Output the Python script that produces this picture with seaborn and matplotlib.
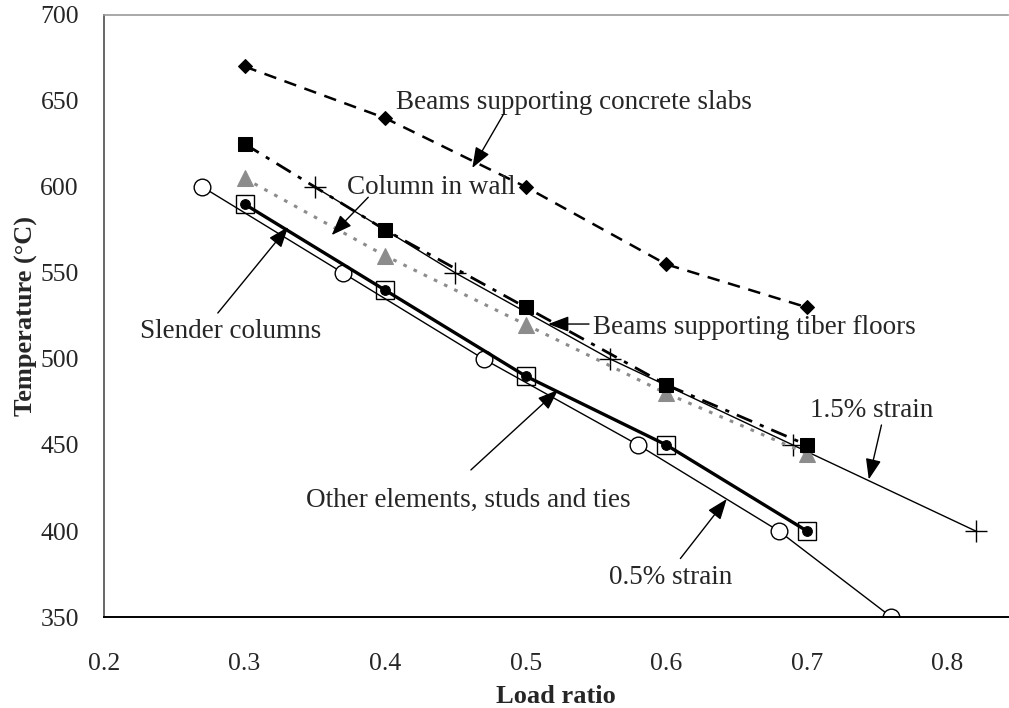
import matplotlib
matplotlib.use('Agg')
import matplotlib.pyplot as plt
import seaborn as sns

# Data
load_main = [0.3, 0.4, 0.5, 0.6, 0.7]
concrete_slabs = [670, 640, 600, 555, 530]
tiber_floors = [625, 575, 530, 485, 450]
column_wall = [605, 560, 520, 480, 445]
slender_cols = [590, 540, 490, 450, 400]
other_elements = [590, 540, 490, 450, 400]

load_15 = [0.35, 0.45, 0.56, 0.69, 0.82]
strain_15 = [600, 550, 500, 450, 400]

load_05 = [0.27, 0.37, 0.47, 0.58, 0.68, 0.76]
strain_05 = [600, 550, 500, 450, 400, 350]

x_ticks = [0.2, 0.3, 0.4, 0.5, 0.6, 0.7, 0.8]
y_ticks = [350, 400, 450, 500, 550, 600, 650, 700]

sns.set_style('white')
plt.rcParams['font.family'] = ['Liberation Serif', 'DejaVu Serif']

fig = plt.figure(figsize=(10.09, 7.08), dpi=100)
ax = fig.add_axes([0.103, 0.1285, 0.896, 0.8505])

# thin lines first
sns.lineplot(x=load_05, y=strain_05, ax=ax, color='black', lw=1.0,
             marker='o', markersize=12, markerfacecolor='white',
             markeredgecolor='black', markeredgewidth=1.0)
sns.lineplot(x=load_15, y=strain_15, ax=ax, color='black', lw=1.0,
             marker='+', markersize=16, markeredgewidth=1.0,
             markeredgecolor='black')
sns.lineplot(x=load_main, y=column_wall, ax=ax, color='#8c8c8c', lw=2.2,
             linestyle=(0, (1.2, 2.5)), marker='^', markersize=11,
             markeredgecolor='#8c8c8c', markerfacecolor='#8c8c8c')
sns.lineplot(x=load_main, y=tiber_floors, ax=ax, color='black', lw=2.0,
             linestyle=(0, (6, 3, 1.5, 3)), marker='s', markersize=10,
             markeredgecolor='black')
sns.lineplot(x=load_main, y=concrete_slabs, ax=ax, color='black', lw=1.8,
             linestyle=(0, (5, 3.5)), marker='D', markersize=7,
             markeredgecolor='black')
sns.lineplot(x=load_main, y=other_elements, ax=ax, color='black', lw=2.4,
             marker='s', markersize=13, markerfacecolor='none',
             markeredgecolor='black', markeredgewidth=1.0)
sns.lineplot(x=load_main, y=slender_cols, ax=ax, color='black', lw=0,
             marker='o', markersize=7, markeredgecolor='black')

ax.set_xlim(0.2, 0.843)
ax.set_ylim(350, 700)
ax.set_xticks(x_ticks)
ax.set_yticks(y_ticks)
ax.set_xticklabels([f'{v:.1f}' for v in x_ticks])
ax.tick_params(axis='both', which='major', direction='out', length=8,
               width=1.2, color='#666666', labelsize=18.5, pad=10)
ax.tick_params(axis='x', pad=18)

ax.spines['right'].set_visible(False)
ax.spines['top'].set_color('#999999')
ax.spines['top'].set_linewidth(1.2)
ax.spines['left'].set_color('#666666')
ax.spines['left'].set_linewidth(1.4)
ax.spines['bottom'].set_color('black')
ax.spines['bottom'].set_linewidth(1.4)

ax.set_xlabel('Load ratio', fontsize=19, fontweight='bold', labelpad=7)
ax.set_ylabel('Temperature (°C)', fontsize=19, fontweight='bold', labelpad=2)

arrow = dict(arrowstyle='-|>,head_length=0.45,head_width=0.17',
             color='black', lw=1.0, mutation_scale=28, shrinkA=0, shrinkB=0)

labels = [
    ('Beams supporting concrete slabs', (0.408, 649), (0.484, 642), (0.462, 611)),
    ('Column in wall', (0.373, 599.5), (0.388, 594), (0.362, 572)),
    ('Slender columns', (0.226, 515.7), (0.281, 526.7), (0.331, 576.7)),
    ('Beams supporting tiber floors', (0.548, 518), (0.545, 520.3), (0.516, 520.3)),
    ('Other elements, studs and ties', (0.344, 417.5), (0.461, 435.5), (0.523, 482)),
    ('0.5% strain', (0.559, 373), (0.610, 384), (0.643, 418.6)),
    ('1.5% strain', (0.702, 470), (0.753, 461.6), (0.744, 430)),
]
for text, tpos, tail, tip in labels:
    ax.text(tpos[0], tpos[1], text, fontsize=19.5, ha='left', va='center')
    ax.annotate('', xy=tip, xytext=tail, arrowprops=arrow)

fig.savefig('out.png', dpi=100)
